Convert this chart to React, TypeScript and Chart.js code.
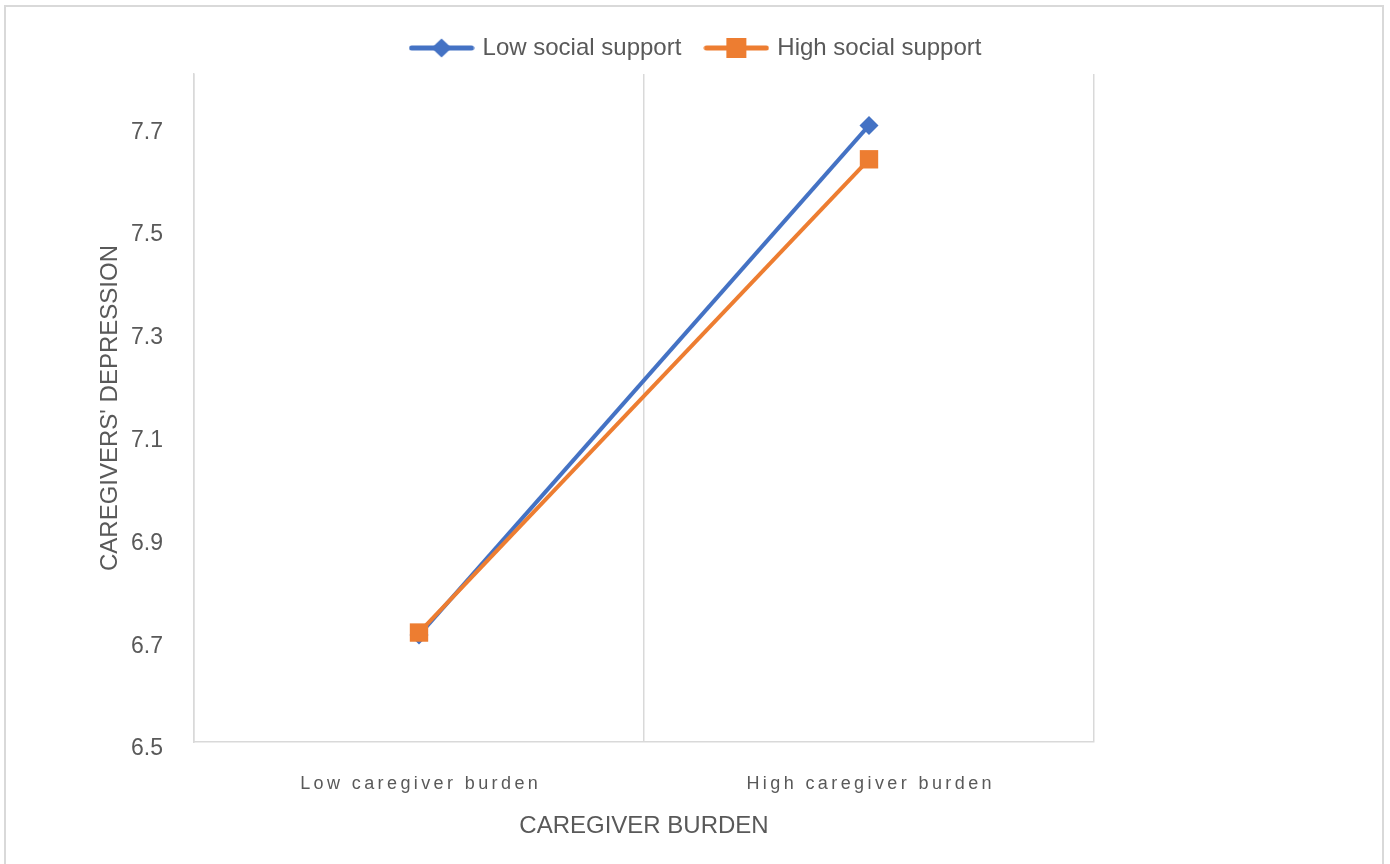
import React, { useEffect, useRef } from 'react';
import { Chart, registerables } from 'chart.js';

Chart.register(...registerables);

// ---- data ----
const CATEGORIES = ['Low caregiver burden', 'High caregiver burden'];
const SERIES_NAMES = ['Low social support', 'High social support'];
const LOW_SUPPORT = [6.708, 7.7];
const HIGH_SUPPORT = [6.713, 7.634];
const Y_TICKS = [6.5, 6.7, 6.9, 7.1, 7.3, 7.5, 7.7];
const Y_MIN = 6.5;
const Y_MAX = 7.8;
const X_TITLE = 'CAREGIVER BURDEN';
const Y_TITLE = "CAREGIVERS' DEPRESSION";

// ---- styles ----
const BLUE = '#4472C4';
const ORANGE = '#ED7D31';
const TEXT = '#595959';
const GRID = '#D9D9D9';
const FONT = '"Liberation Sans", Arial, sans-serif';

function makeIcon(color: string, kind: 'diamond' | 'square'): HTMLCanvasElement {
  const c = document.createElement('canvas');
  c.width = 66;
  c.height = 26;
  const g = c.getContext('2d') as CanvasRenderingContext2D;
  g.strokeStyle = color;
  g.lineWidth = 5;
  g.lineCap = 'round';
  g.beginPath();
  g.moveTo(3, 13);
  g.lineTo(63, 13);
  g.stroke();
  g.fillStyle = color;
  if (kind === 'diamond') {
    g.beginPath();
    g.moveTo(33, 3.5);
    g.lineTo(43, 13);
    g.lineTo(33, 22.5);
    g.lineTo(23, 13);
    g.closePath();
    g.fill();
  } else {
    g.fillRect(23, 3, 20, 20);
  }
  return c;
}

const legendSpacer = {
  id: 'legendSpacer',
  beforeLayout(chart: any) {
    const lg = chart.legend;
    if (lg && !lg.__patched) {
      const fit = lg.fit.bind(lg);
      lg.fit = function () {
        fit();
        this.height += 4;
      };
      lg.__patched = true;
    }
  },
};

const spacedXLabels = {
  id: 'spacedXLabels',
  afterDraw(chart: any) {
    const xs = chart.scales.x;
    const ctx = chart.ctx as CanvasRenderingContext2D;
    const spacing = 3.4;
    ctx.save();
    ctx.font = `18px ${FONT}`;
    ctx.fillStyle = TEXT;
    ctx.textAlign = 'center';
    ctx.textBaseline = 'middle';
    (ctx as any).letterSpacing = `${spacing}px`;
    xs.ticks.forEach((t: any, i: number) => {
      ctx.fillText(String(xs.getLabelForValue(t.value)), xs.getPixelForTick(i) + spacing / 2, xs.top + 42);
    });
    ctx.restore();
  },
};

export default function App() {
  const ref = useRef<HTMLCanvasElement | null>(null);

  useEffect(() => {
    if (!ref.current) return;
    const icons = [makeIcon(BLUE, 'diamond'), makeIcon(ORANGE, 'square')];
    const chart = new Chart(ref.current, {
      type: 'line',
      data: {
        labels: CATEGORIES,
        datasets: [
          {
            label: SERIES_NAMES[0],
            data: LOW_SUPPORT,
            borderColor: BLUE,
            backgroundColor: BLUE,
            borderWidth: 4,
            pointStyle: 'rectRot',
            pointRadius: 9.5,
            pointHoverRadius: 9.5,
            pointBorderWidth: 0,
            pointBackgroundColor: BLUE,
            order: 1,
            yAxisID: 'y',
          },
          {
            label: SERIES_NAMES[1],
            data: HIGH_SUPPORT,
            borderColor: ORANGE,
            backgroundColor: ORANGE,
            borderWidth: 4,
            pointStyle: 'rect',
            pointRadius: 13,
            pointHoverRadius: 13,
            pointBorderWidth: 0,
            pointBackgroundColor: ORANGE,
            order: 0,
            yAxisID: 'y',
          },
        ],
      },
      options: {
        responsive: false,
        animation: false,
        devicePixelRatio: 1,
        layout: { padding: { top: 10, left: 4, right: 0, bottom: 0 } },
        plugins: {
          tooltip: { enabled: false },
          legend: {
            display: true,
            position: 'top',
            labels: {
              usePointStyle: true,
              pointStyleWidth: 58,
              padding: 26,
              color: TEXT,
              font: { size: 24, family: FONT },
              generateLabels: (ch: any) =>
                ch.data.datasets.map((ds: any, i: number) => ({
                  text: ds.label,
                  fillStyle: ds.borderColor,
                  strokeStyle: ds.borderColor,
                  lineWidth: 0,
                  pointStyle: icons[i],
                  datasetIndex: i,
                  hidden: false,
                  fontColor: TEXT,
                })),
            },
          },
        },
        scales: {
          x: {
            type: 'category',
            offset: true,
            grid: { display: true, offset: true, color: GRID, lineWidth: 1.5, drawTicks: false },
            border: { display: true, color: GRID, width: 1.5 },
            ticks: { display: false },
            afterFit: (s: any) => {
              s.height = 122;
            },
            title: {
              display: true,
              text: X_TITLE,
              color: TEXT,
              font: { size: 24, family: FONT },
              padding: { top: 0, bottom: 23.6 },
            },
          },
          y: {
            type: 'linear',
            position: 'left',
            min: Y_MIN,
            max: Y_MAX,
            afterBuildTicks: (s: any) => {
              s.ticks = Y_TICKS.map((v) => ({ value: v }));
            },
            afterFit: (s: any) => {
              s.width = 190;
            },
            grid: { display: false, drawTicks: false },
            border: { display: true, color: GRID, width: 1.5 },
            ticks: {
              padding: 31,
              labelOffset: 7,
              color: TEXT,
              font: { size: 23, family: FONT },
              callback: (v: any) => Number(v).toFixed(1),
            },
            title: {
              display: true,
              text: Y_TITLE,
              color: TEXT,
              font: { size: 24, family: FONT },
              padding: { top: 91.6, bottom: 0 },
            },
          },
          yRight: {
            type: 'linear',
            position: 'right',
            display: true,
            grid: { display: false, drawTicks: false },
            border: { display: false },
            ticks: { display: false },
            afterFit: (s: any) => {
              s.width = 296;
            },
          },
        },
      } as any,
      plugins: [legendSpacer, spacedXLabels],
    });
    return () => chart.destroy();
  }, []);

  return (
    <div
      style={{
        position: 'fixed',
        left: 0,
        top: 0,
        width: 1390,
        height: 864,
        overflow: 'hidden',
        background: '#ffffff',
      }}
    >
      <div
        style={{
          position: 'absolute',
          left: 4,
          top: 5,
          width: 1380,
          height: 920,
          border: '2px solid #D9D9D9',
          boxSizing: 'border-box',
        }}
      />
      <canvas
        ref={ref}
        width={1390}
        height={864}
        style={{ position: 'absolute', left: 0, top: 0, width: 1390, height: 864 }}
      />
    </div>
  );
}
